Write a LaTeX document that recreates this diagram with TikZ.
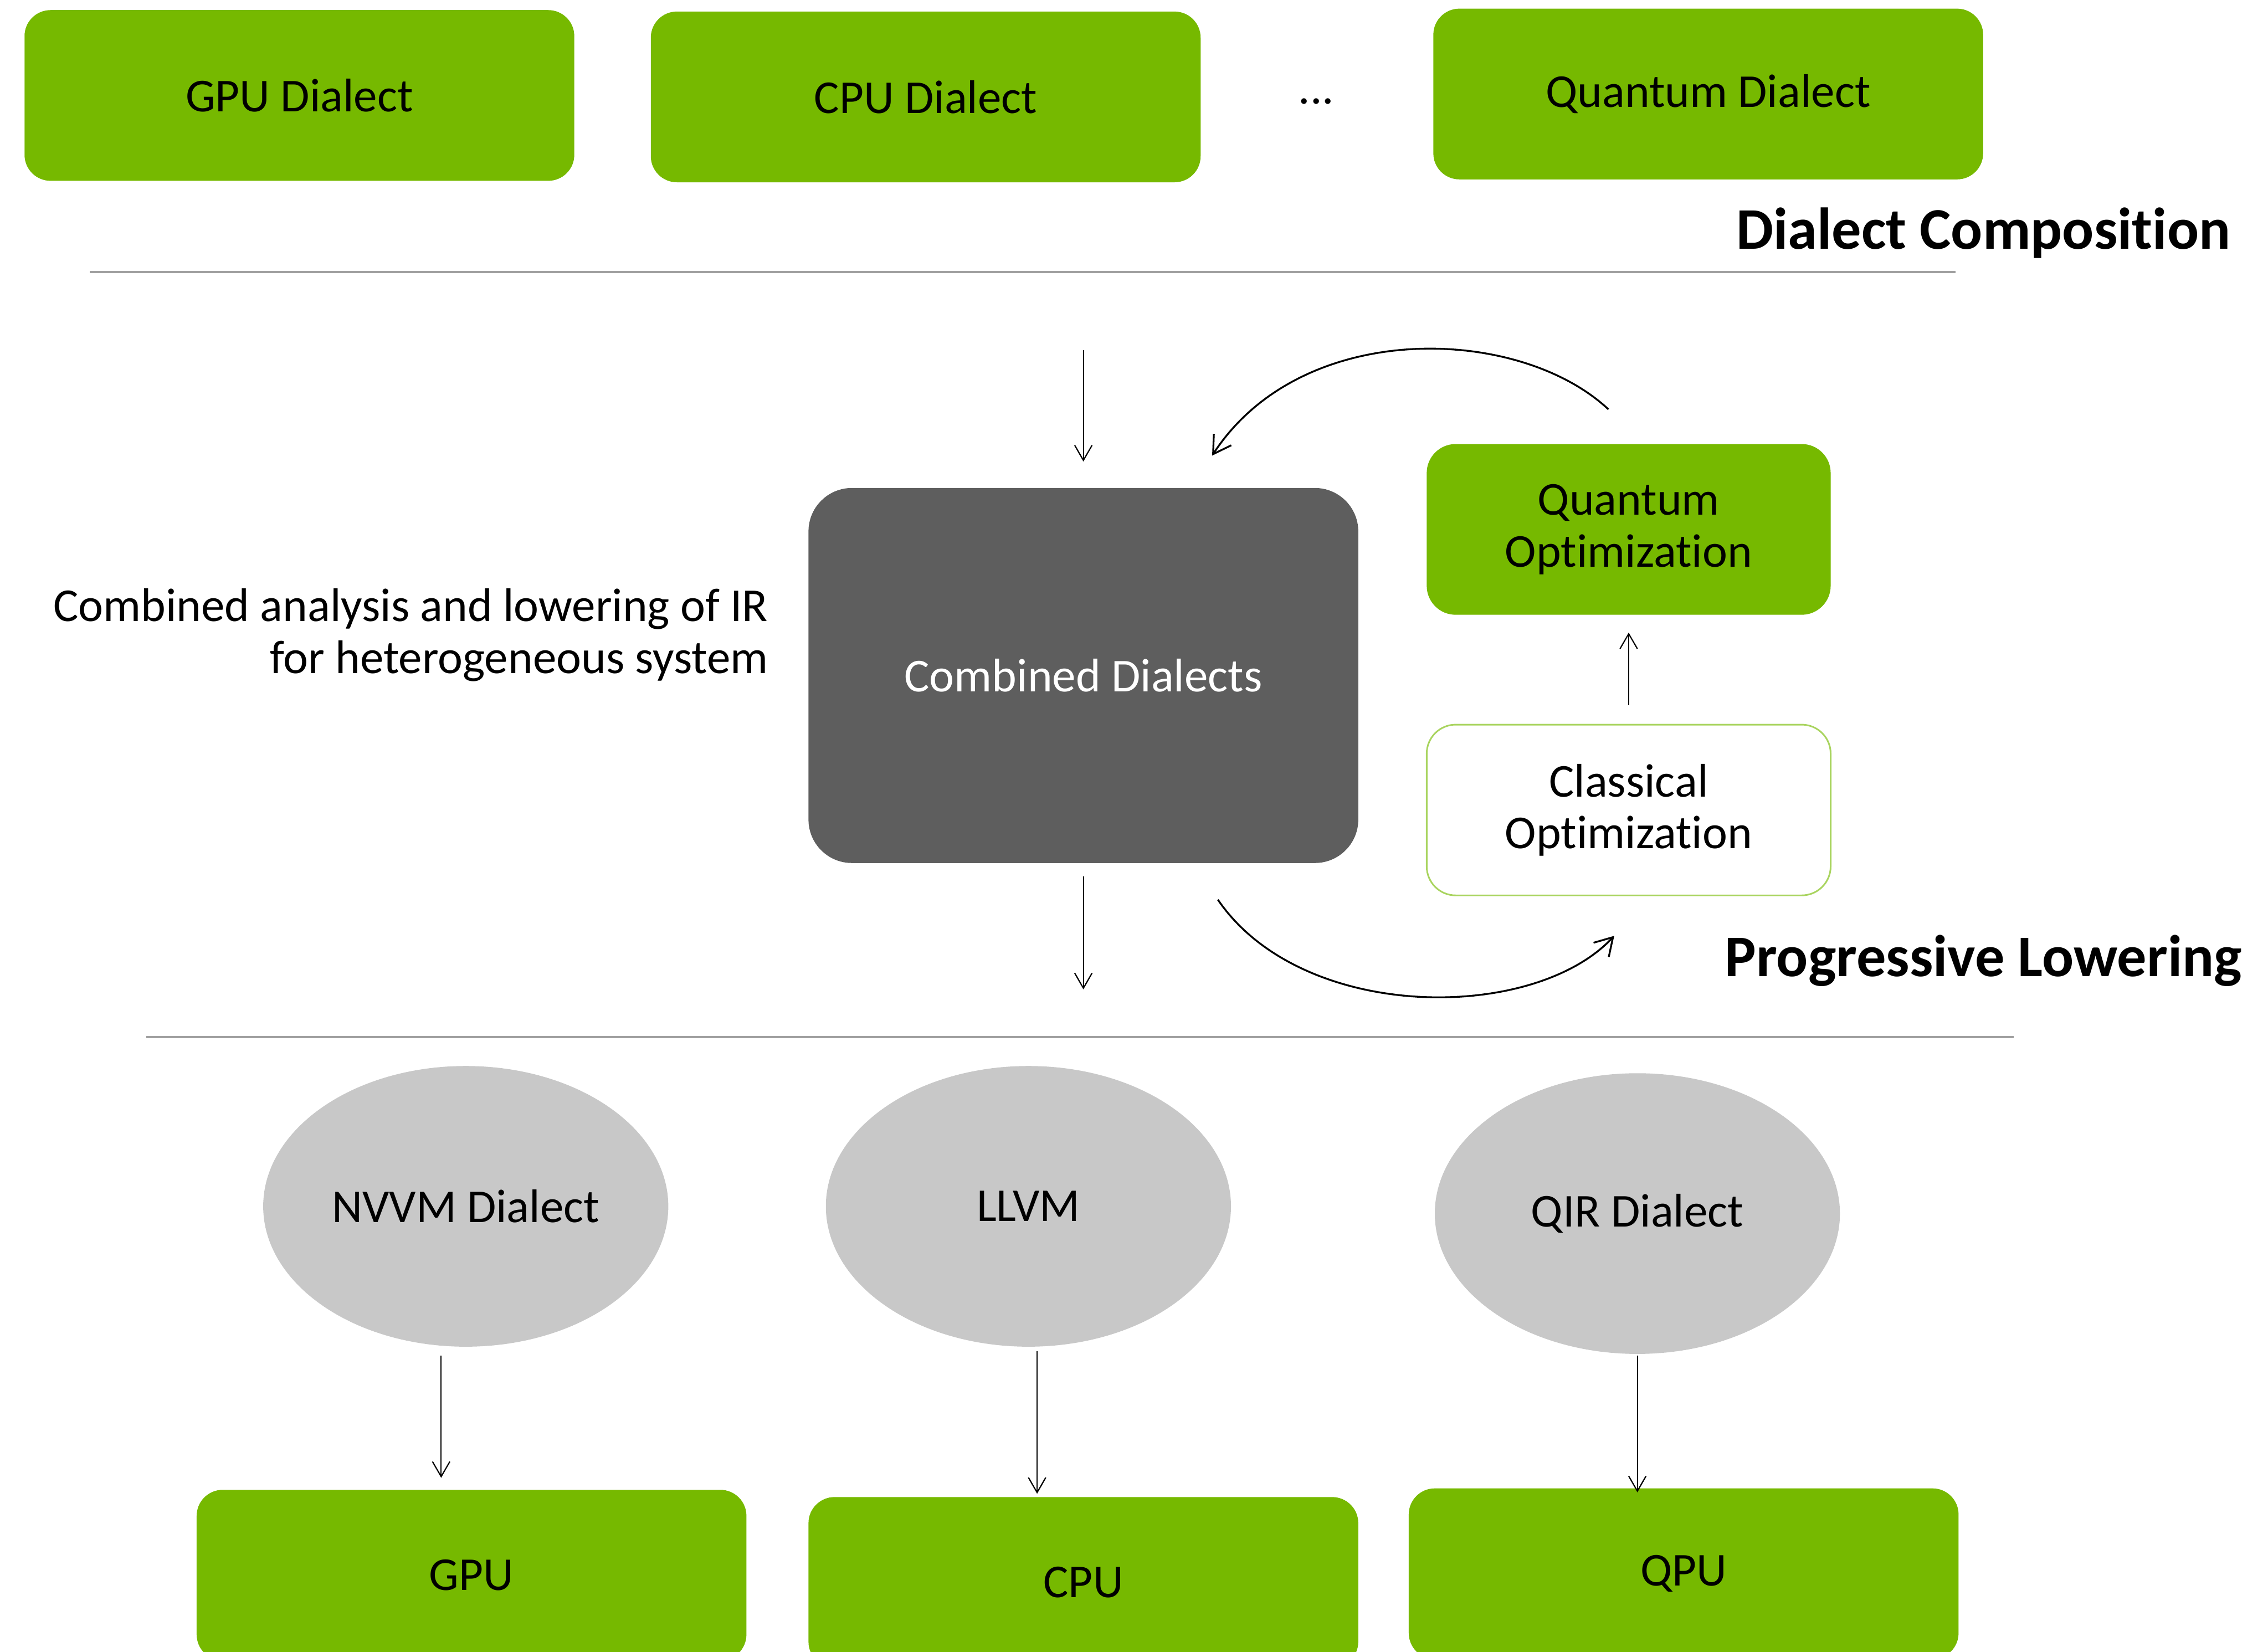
\documentclass[tikz,border=0pt]{standalone}
\usepackage{fontspec}
\setmainfont{Carlito}[RawFeature={-liga;-clig;-dlig;-calt}]
\usetikzlibrary{shapes.geometric, arrows.meta, calc}

\definecolor{nvgreen}{HTML}{76B900}
\definecolor{darkbox}{HTML}{5E5E5E}
\definecolor{lightoval}{HTML}{C8C8C8}
\definecolor{rulegray}{HTML}{A0A0A0}
\definecolor{paleborder}{HTML}{A9D45F}

\begin{document}
\begin{tikzpicture}[x=0.025cm, y=-0.025cm, every node/.style={font=\fontsize{23.2}{25.4}\selectfont}]
% Styles
\tikzstyle{dialect} = [rectangle, rounded corners=0.45cm, minimum width=9.5cm, minimum height=2.95cm, text centered, fill=nvgreen, align=center, inner sep=0pt]
\tikzstyle{optim} = [rectangle, rounded corners=0.5cm, minimum width=6.98cm, minimum height=2.95cm, text centered, fill=nvgreen, align=center, inner sep=0pt]
\tikzstyle{combined} = [rectangle, rounded corners=0.75cm, minimum width=9.5cm, minimum height=6.48cm, text centered, fill=darkbox, text=white, inner sep=0pt]
\tikzstyle{target} = [ellipse, minimum width=7cm, minimum height=4.85cm, fill=lightoval, text centered, inner sep=0pt]
\tikzstyle{title} = [anchor=east, font=\fontsize{29}{34}\selectfont\bfseries]
\tikzstyle{arrow} = [line width=0.6pt, -{Straight Barb[length=0.26cm, width=0.3cm]}]
\tikzstyle{arc} = [line width=0.9pt, -{Straight Barb[length=0.3cm, width=0.36cm]}]
\tikzstyle{sep} = [line width=1pt, rulegray]

\useasboundingbox (0,0) rectangle (1568,1142);

% Nodes
\node (gpu_dialect) [dialect] at (207,66) {GPU Dialect};
\node (cpu_dialect) [dialect] at (640,67) {CPU Dialect};
\node (dots) at (910,70) {...};
\node (quantum_dialect) [dialect] at (1181,65) {Quantum Dialect};
\node (composition) [title] at (1547,161) {Dialect Composition};

\node (combined) [combined] at (749,467) {Combined Dialects};
\node (quantum_opt) [optim] at (1126,366) {Quantum\\Optimization};
\node (classical_opt) [optim, fill=white, draw=paleborder, line width=0.8pt] at (1126,560) {Classical\\Optimization};
\node (analysis) [anchor=east, align=right] at (536,439) {Combined analysis and lowering of IR\\for heterogeneous system};
\node (lowering) [title] at (1555,664) {Progressive Lowering};

\node (nvvm) [target] at (322,834) {NVVM Dialect};
\node (llvm) [target] at (711,834) {LLVM};
\node (qir) [target] at (1132,839) {QIR Dialect};

\node (gpu) [dialect] at (326,1089) {GPU};
\node (cpu) [dialect] at (749,1094) {CPU};
\node (qpu) [dialect] at (1164,1088) {QPU};

% Separators
\coordinate (s1a) at (62,188);
\coordinate (s1b) at (1352,188);
\coordinate (s2a) at (101,717);
\coordinate (s2b) at (1392,717);
\draw [sep] (s1a) -- (s1b);
\draw [sep] (s2a) -- (s2b);

% Arrows
\coordinate (feed) at (749,242);
\coordinate (drain) at (749,684);
\draw [arrow] (feed) -- ($(combined.north)+(0,-18)$);
\draw [arrow] ($(combined.south)+(0,9)$) -- (drain);
\draw [arrow] ($(classical_opt.north)+(0,-13)$) -- ($(quantum_opt.south)+(0,12)$);

\coordinate (arc1s) at (1112,283);
\coordinate (arc1e) at (838,315);
\coordinate (arc2s) at (842,622);
\coordinate (arc2e) at (1116,647);
\draw [arc] (arc1s) .. controls (1050,225) and (900,220) .. (arc1e);
\draw [arc] (arc2s) .. controls (900,707) and (1060,707) .. (arc2e);

\draw [arrow] ($(nvvm.south)+(-17,6)$) -- ($(gpu.north)+(-21,-8)$);
\draw [arrow] ($(llvm.south)+(6,3)$) -- ($(cpu.north)+(-32,-2)$);
\draw [arrow] ($(qir.south)+(0,1)$) -- ($(qpu.north)+(-32,3)$);
\end{tikzpicture}
\end{document}
